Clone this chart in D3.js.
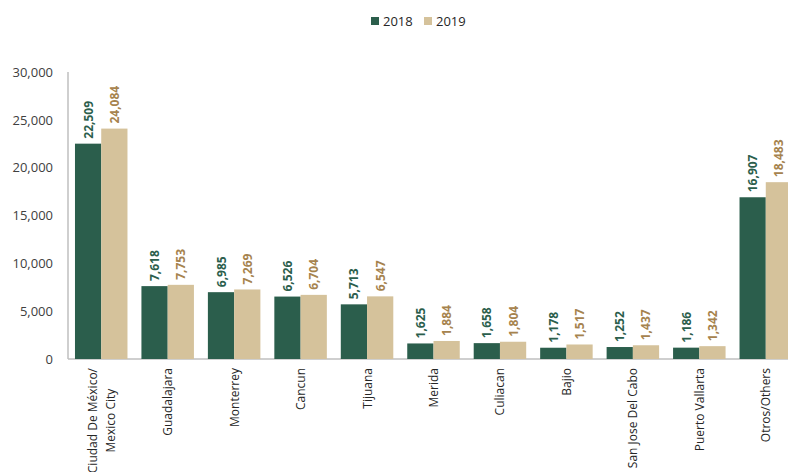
<!DOCTYPE html>
<html>
<head>
<meta charset="utf-8">
<script src="https://cdn.jsdelivr.net/npm/d3@7"></script>
<style>
  html, body { margin: 0; padding: 0; background: #fff; }
  svg { display: block; font-family: "Open Sans", sans-serif; }
</style>
</head>
<body>
<svg id="chart" width="788" height="472"></svg>
<script>
// Airports / cities
const categories = [
  ["Ciudad De México/", "Mexico City"],
  ["Guadalajara"], ["Monterrey"], ["Cancun"], ["Tijuana"], ["Merida"],
  ["Culiacan"], ["Bajio"], ["San Jose Del Cabo"], ["Puerto Vallarta"], ["Otros/Others"]
];
const seriesNames = ["2018", "2019"];
const values2018 = [22509, 7618, 6985, 6526, 5713, 1625, 1658, 1178, 1252, 1186, 16907];
const values2019 = [24084, 7753, 7269, 6704, 6547, 1884, 1804, 1517, 1437, 1342, 18483];
const yTicks = [0, 5000, 10000, 15000, 20000, 25000, 30000];

const barColors = ["#2b5e4c", "#d5c29b"];
const labelColors = ["#2b5e4c", "#a6834e"];

const svg = d3.select("#chart");
const plotLeft = 68, plotTop = 72, plotBottom = 359, plotRight = 799;

const keys = categories.map((c, i) => i);
const x0 = d3.scaleBand().domain(keys).range([plotLeft, plotRight])
  .paddingInner(0.21).paddingOuter(0.105);
const x1 = d3.scaleBand().domain([0, 1]).range([0, x0.bandwidth()]);
const y = d3.scaleLinear().domain([0, 30000]).range([plotBottom, plotTop]);

// Y axis labels
const fmt = d3.format(",");
const yAxis = d3.axisLeft(y).tickValues(yTicks).tickFormat(fmt).tickSize(0).tickPadding(15);
const gy = svg.append("g").attr("transform", `translate(${plotLeft},0)`).call(yAxis);
gy.select(".domain").remove();
gy.selectAll("text").attr("font-size", 13).attr("fill", "#404040")
  .attr("font-family", "Open Sans, sans-serif");

// Axis lines
svg.append("line").attr("x1", plotLeft).attr("x2", plotLeft).attr("y1", plotTop).attr("y2", plotBottom)
  .attr("stroke", "#bfbfbf").attr("stroke-width", 1.5);
svg.append("line").attr("x1", plotLeft).attr("x2", 788).attr("y1", plotBottom).attr("y2", plotBottom)
  .attr("stroke", "#bfbfbf").attr("stroke-width", 1.5);

// Bars and value labels
const series = [values2018, values2019];
series.forEach((vals, s) => {
  const g = svg.append("g");
  g.selectAll("rect").data(vals).join("rect")
    .attr("x", (d, i) => x0(i) + x1(s))
    .attr("y", d => y(d))
    .attr("width", x1.bandwidth())
    .attr("height", d => y(0) - y(d))
    .attr("fill", barColors[s]);
  g.selectAll("text").data(vals).join("text")
    .attr("transform", (d, i) =>
      `translate(${x0(i) + x1(s) + x1.bandwidth() / 2 + 4.5},${y(d) - 5}) rotate(-90)`)
    .attr("text-anchor", "start")
    .attr("font-size", 12).attr("font-weight", "bold")
    .attr("fill", labelColors[s])
    .text(d => fmt(d));
});

// Category labels, rotated; multi-line labels are centred on their longest line
const xl = svg.append("g");
const labelTop = 368;
categories.forEach((lines, i) => {
  const cx = x0(i) + x0.bandwidth() / 2;
  const n = lines.length;
  const nodes = lines.map((t, j) => {
    const off = (j - (n - 1) / 2) * 18;
    return xl.append("text")
      .attr("font-size", 12).attr("fill", "#262626")
      .attr("text-anchor", "middle")
      .attr("data-x", cx + off + 4.5)
      .text(t);
  });
  const maxLen = d3.max(nodes, nd => nd.node().getComputedTextLength());
  nodes.forEach(nd => {
    nd.attr("transform", `translate(${+nd.attr("data-x")},${labelTop + maxLen / 2}) rotate(-90)`);
  });
});

// Legend
const lg = svg.append("g");
const legendX = [371, 424];
seriesNames.forEach((name, s) => {
  lg.append("rect").attr("x", legendX[s]).attr("y", 17).attr("width", 8).attr("height", 8)
    .attr("fill", barColors[s]);
  lg.append("text").attr("x", legendX[s] + 12).attr("y", 26)
    .attr("font-size", 13).attr("fill", "#262626").text(name);
});
</script>
</body>
</html>
